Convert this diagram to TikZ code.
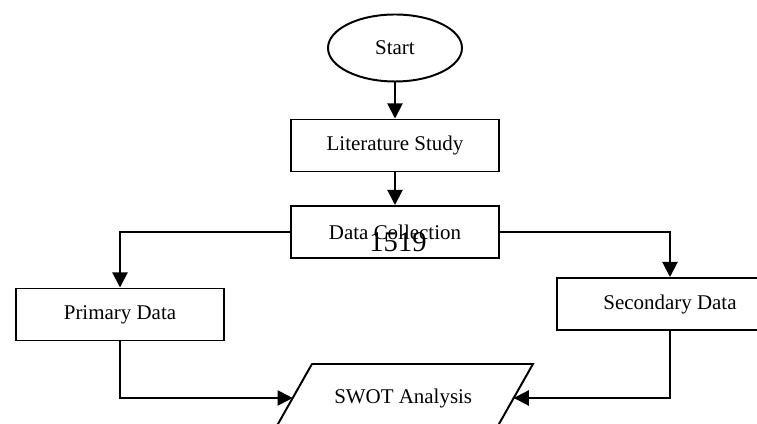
\documentclass[tikz,border=0pt]{standalone}
\usepackage{fontspec}
\setmainfont{Liberation Serif}
\usetikzlibrary{shapes.geometric,arrows.meta,positioning}

\begin{document}
\begin{tikzpicture}[
  box/.style={rectangle,draw,line width=1.4pt,minimum width=5.2cm,minimum height=1.3cm,inner sep=0pt,align=center,font=\fontsize{14.9}{17}\selectfont},
  term/.style={ellipse,draw,line width=1.4pt,minimum width=3.35cm,minimum height=1.675cm,inner sep=0pt,font=\fontsize{14.9}{17}\selectfont},
  io/.style={inner sep=0pt,font=\fontsize{14.9}{17}\selectfont},
  arr/.style={->,>={Triangle[length=3.8mm,width=3.8mm]},line width=1.4pt}
]
  \useasboundingbox (0,0) rectangle (18.925,10.6);
  \clip (0,0) rectangle (18.925,10.6);

  % Main column
  \node[term] (start)    at (9.875,9.4)    {Start};
  \node[box]  (litstudy) at (9.875,6.9625) {Literature Study};
  \node[box]  (datacoll) at (9.875,4.8)    {Data Collection};
  \node[font=\fontsize{20.3}{22}\selectfont] (pageno) at (9.95,4.55) {1519};

  % Data sources
  \node[box] (primary)   at (3.0,2.7375) {Primary Data};
  \node[box,minimum width=5.65cm] (secondary) at (16.75,3.0) {Secondary Data};

  % Analysis (slanted box)
  \node[io] (swot) at (10.08,0.65) {SWOT Analysis};
  \draw[line width=1.4pt] ([shift={(-3.244,-0.85)}]swot.center) -- ++(5.525,0) -- ++(0.963,1.7) -- ++(-5.525,0) -- cycle;
  \coordinate (swotl) at ([xshift=-2.7625cm]swot.center);
  \coordinate (swotr) at ([xshift=2.7625cm]swot.center);

  % Flow
  \draw[arr] (start) -- (litstudy);
  \draw[arr] (litstudy) -- (datacoll);
  \draw[arr] (datacoll.west) -| (primary.north);
  \draw[arr] (datacoll.east) -| (secondary.north);
  \draw[arr] (primary.south) |- (swotl);
  \draw[arr] (secondary.south) |- (swotr);
\end{tikzpicture}
\end{document}
